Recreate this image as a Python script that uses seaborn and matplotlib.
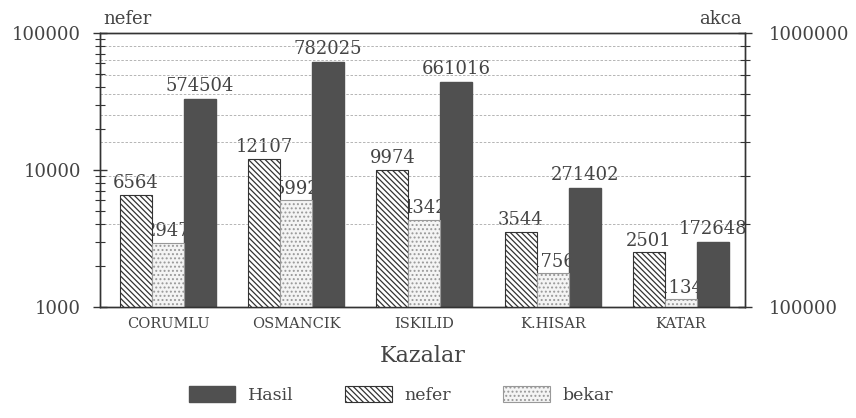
import pandas as pd
import seaborn as sns
import matplotlib
matplotlib.use("Agg")
import matplotlib.pyplot as plt
from matplotlib.ticker import LogLocator, NullFormatter, FixedLocator

# data
kazalar = ["CORUMLU", "OSMANCIK", "ISKILID", "K.HISAR", "KATAR"]
nefer = [6564, 12107, 9974, 3544, 2501]
bekar = [2947, 5992, 4342, 1756, 1134]
hasil = [574504, 782025, 661016, 271402, 172648]
seriler = ["nefer", "bekar", "Hasil"]

sns.set_style("white")
plt.rcParams["font.family"] = ["DejaVu Serif"]
plt.rcParams["hatch.linewidth"] = 0.9
ink = "#444444"

sol = pd.DataFrame({"kaza": kazalar * 2,
                    "deger": nefer + bekar,
                    "seri": ["nefer"] * 5 + ["bekar"] * 5})
sag = pd.DataFrame({"kaza": kazalar, "deger": hasil, "seri": ["Hasil"] * 5})

fig = plt.figure(figsize=(8.56, 4.18), dpi=100)
ax = fig.add_axes([0.1168, 0.2656, 0.7535, 0.6555])
ax2 = ax.twinx()

sns.barplot(data=sol, x="kaza", y="deger", hue="seri", hue_order=seriler,
            order=kazalar, dodge=True, width=0.75,
            legend=False, ax=ax, errorbar=None)
sns.barplot(data=sag, x="kaza", y="deger", hue="seri", hue_order=seriler,
            order=kazalar, dodge=True, width=0.75,
            legend=False, ax=ax2, errorbar=None)
ax.set_yscale("log")
ax2.set_yscale("log")

# twin (Hasil) drawn underneath, nefer/bekar on top
ax2.set_zorder(0)
ax.set_zorder(1)
ax.patch.set_visible(False)

ax.set_ylim(1000, 100000)
ax2.set_ylim(100000, 1000000)
ax.set_xlim(-0.53, 4.5)

# styling of bars
for p in ax.containers[0]:
    p.set_facecolor("white"); p.set_edgecolor("#333333"); p.set_hatch("\\\\\\\\\\\\"); p.set_linewidth(0.8)
for p in ax.containers[1]:
    p.set_facecolor("#f4f4f4"); p.set_edgecolor("#999999"); p.set_hatch("...."); p.set_linewidth(0.8)
for c in ax2.containers:
    for p in c:
        p.set_facecolor("#505050"); p.set_edgecolor("#505050"); p.set_zorder(1)

# value labels for nefer / bekar go on the twin so Hasil bars cover them
for c, vals in zip(ax.containers[:2], [nefer, bekar]):
    for p, v in zip(c, vals):
        ax2.text(p.get_x() + p.get_width() / 2, p.get_height() * 1.05, str(v),
                 transform=ax.transData, ha="center", va="bottom",
                 fontsize=13, color=ink, zorder=0.5)
hc = [c for c in ax2.containers if len(c) and c[0].get_height() > 0][0]
ax2.bar_label(hc, labels=[str(v) for v in hasil], padding=3, fontsize=13, color=ink)

# grid at the right-axis minor ticks
ax2.yaxis.set_minor_locator(LogLocator(base=10, subs=range(2, 10)))
ax2.yaxis.grid(True, which="minor", linestyle=(0, (3, 2)), color="#aaaaaa", linewidth=0.6)
ax2.set_axisbelow(True)

for a in (ax, ax2):
    a.yaxis.set_minor_formatter(NullFormatter())
    a.tick_params(axis="y", which="major", direction="inout", length=10, width=1,
                  colors="#333333", labelcolor=ink, labelsize=13)
    a.tick_params(axis="y", which="minor", direction="inout", length=7, width=0.8,
                  colors="#333333")
    for s in a.spines.values():
        s.set_color("#333333"); s.set_linewidth(1)
ax.yaxis.set_major_locator(FixedLocator([1000, 10000, 100000]))
ax.set_yticklabels(["1000", "10000", "100000"])
ax2.yaxis.set_major_locator(FixedLocator([100000, 1000000]))
ax2.set_yticklabels(["100000", "1000000"])
ax.tick_params(axis="y", pad=8.5)
ax2.tick_params(axis="y", pad=12)
ax.tick_params(axis="x", direction="out", length=4, colors="#333333",
               labelcolor=ink, labelsize=10.5, pad=3)
ax2.set_ylabel("")
ax.set_ylabel("")
ax.set_xlabel("Kazalar", fontsize=16, color=ink, labelpad=10)

ax.text(0.005, 1.02, "nefer", transform=ax.transAxes, ha="left", va="bottom",
        fontsize=13, color=ink)
ax.text(0.995, 1.02, "akca", transform=ax.transAxes, ha="right", va="bottom",
        fontsize=13, color=ink)

handles = [hc[0], ax.containers[0][0], ax.containers[1][0]]
fig.legend(handles, ["Hasil", "nefer", "bekar"], loc="center",
           bbox_to_anchor=(0.468, 0.055), ncol=3, frameon=False,
           fontsize=12.5, labelcolor=ink, handlelength=2.7, handleheight=1.0,
           handletextpad=0.7, columnspacing=3.0)

fig.savefig("out.png", dpi=100)
